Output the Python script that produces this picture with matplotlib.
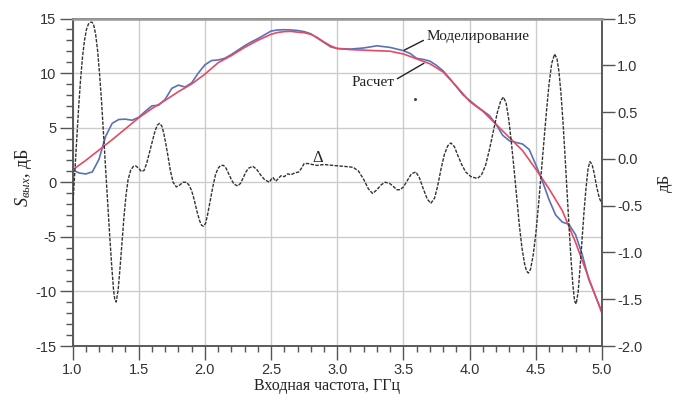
import matplotlib
matplotlib.use('Agg')
import matplotlib.pyplot as plt
from matplotlib.ticker import MultipleLocator, FormatStrFormatter

plt.rcParams['axes.unicode_minus'] = False
plt.rcParams['font.family'] = ['Liberation Sans', 'DejaVu Sans']
plt.rcParams['mathtext.fontset'] = 'custom'
plt.rcParams['mathtext.rm'] = 'Liberation Serif'
plt.rcParams['mathtext.it'] = 'Liberation Serif:italic'

# ---- data ----
freq_model = [1.0, 1.05, 1.1, 1.15, 1.2, 1.226, 1.25, 1.3, 1.35, 1.4, 1.45, 1.5, 1.55, 1.6, 1.65,
              1.7, 1.75, 1.8, 1.85, 1.9, 1.95, 2.0, 2.05, 2.1, 2.15, 2.2, 2.25, 2.3, 2.35, 2.4,
              2.45, 2.5, 2.55, 2.6, 2.65, 2.7, 2.75, 2.8, 2.85, 2.9, 2.95, 3.0, 3.1, 3.2, 3.3,
              3.4, 3.5, 3.55, 3.6, 3.65, 3.7, 3.75, 3.8, 3.85, 3.9, 3.95, 4.0, 4.05, 4.1, 4.15,
              4.2, 4.25, 4.3, 4.35, 4.4, 4.45, 4.5, 4.55, 4.6, 4.65, 4.7, 4.75, 4.8, 4.85, 4.9,
              4.95, 5.0]
s_model = [1.13, 0.85, 0.76, 0.95, 2.1, 3.2, 4.2, 5.4, 5.75, 5.78, 5.68, 5.95, 6.5, 7.0, 7.05,
           7.6, 8.6, 8.9, 8.72, 9.1, 10.0, 10.75, 11.15, 11.2, 11.35, 11.7, 12.1, 12.5, 12.85, 13.15,
           13.5, 13.85, 13.95, 13.97, 13.95, 13.9, 13.8, 13.6, 13.2, 12.8, 12.4, 12.25, 12.2, 12.3, 12.5,
           12.35, 12.05, 11.8, 11.35, 11.25, 11.1, 10.7, 10.2, 9.5, 8.75, 8.0, 7.5, 7.0, 6.55, 6.1,
           5.3, 4.3, 3.8, 3.65, 3.5, 3.0, 1.6, 0.1, -1.6, -3.0, -3.65, -3.85, -4.8, -6.6, -8.9,
           -10.4, -11.9]

freq_calc = [1.0, 1.1, 1.2, 1.3, 1.4, 1.5, 1.6, 1.7, 1.8, 1.9, 2.0, 2.1, 2.2, 2.3, 2.4, 2.5,
             2.55, 2.6, 2.65, 2.7, 2.75, 2.8, 2.85, 2.9, 2.95, 3.0, 3.1, 3.2, 3.3, 3.4, 3.5,
             3.6, 3.7, 3.8, 3.9, 4.0, 4.1, 4.2, 4.3, 4.4, 4.5, 4.6, 4.7, 4.8, 4.9, 5.0]
s_calc = [1.13, 2.0, 2.95, 3.9, 4.9, 5.9, 6.75, 7.5, 8.3, 9.0, 9.9, 10.95, 11.6, 12.35, 13.0, 13.55,
          13.72, 13.8, 13.82, 13.75, 13.7, 13.55, 13.25, 12.85, 12.5, 12.25, 12.15, 12.1, 12.05, 12.0, 11.75,
          11.3, 10.85, 10.1, 8.8, 7.4, 6.5, 5.3, 4.1, 2.9, 1.2, -0.6, -2.6, -5.5, -8.8, -12.0]

freq_delta = [1.0, 1.015, 1.03, 1.045, 1.06, 1.075, 1.09, 1.105, 1.12, 1.135, 1.148, 1.16, 1.175,
              1.19, 1.205, 1.22, 1.235, 1.25, 1.265, 1.28, 1.295, 1.31, 1.319, 1.33, 1.345, 1.36,
              1.375, 1.39, 1.405, 1.42, 1.44, 1.46, 1.477, 1.5, 1.52, 1.54, 1.56, 1.58, 1.6, 1.62,
              1.64, 1.658, 1.675, 1.69, 1.705, 1.72, 1.74, 1.76, 1.784, 1.81, 1.835, 1.86, 1.88, 1.9,
              1.92, 1.94, 1.96, 1.975, 1.99, 2.005, 2.02, 2.04, 2.06, 2.08, 2.1, 2.12, 2.141, 2.16,
              2.18, 2.2, 2.22, 2.249, 2.27, 2.29, 2.31, 2.33, 2.362, 2.39, 2.42, 2.45, 2.487, 2.5,
              2.515, 2.535, 2.555, 2.575, 2.6, 2.625, 2.65, 2.68, 2.71, 2.73, 2.75, 2.78, 2.81, 2.85,
              2.9, 2.965, 3.05, 3.12, 3.16, 3.2, 3.235, 3.267, 3.3, 3.33, 3.36, 3.393, 3.42, 3.45,
              3.474, 3.5, 3.53, 3.56, 3.594, 3.62, 3.65, 3.68, 3.707, 3.735, 3.76, 3.785, 3.81, 3.835,
              3.858, 3.885, 3.91, 3.94, 3.97, 4.01, 4.059, 4.09, 4.12, 4.15, 4.18, 4.21, 4.235, 4.255,
              4.275, 4.295, 4.315, 4.335, 4.355, 4.375, 4.395, 4.415, 4.43, 4.444, 4.46, 4.48, 4.5,
              4.52, 4.54, 4.56, 4.58, 4.6, 4.62, 4.642, 4.66, 4.675, 4.69, 4.705, 4.72, 4.735, 4.75,
              4.765, 4.78, 4.793, 4.805, 4.82, 4.835, 4.85, 4.865, 4.88, 4.895, 4.909, 4.925, 4.94,
              4.96, 4.98, 5.0]
delta = [-0.55, -0.2, 0.17, 0.52, 0.83, 1.08, 1.26, 1.38, 1.44, 1.46, 1.46, 1.43, 1.33,
         1.15, 0.9, 0.6, 0.25, -0.1, -0.45, -0.8, -1.12, -1.4, -1.5, -1.53, -1.4, -1.15,
         -0.88, -0.6, -0.38, -0.22, -0.12, -0.08, -0.075, -0.1, -0.135, -0.125, -0.05, 0.06, 0.17, 0.28,
         0.36, 0.38, 0.35, 0.27, 0.16, 0.04, -0.13, -0.25, -0.3, -0.28, -0.25, -0.25, -0.28, -0.34,
         -0.44, -0.56, -0.66, -0.71, -0.72, -0.69, -0.6, -0.45, -0.3, -0.17, -0.1, -0.07, -0.07, -0.1,
         -0.16, -0.22, -0.27, -0.29, -0.26, -0.2, -0.14, -0.1, -0.08, -0.11, -0.17, -0.22, -0.25, -0.22,
         -0.2, -0.24, -0.21, -0.18, -0.19, -0.16, -0.17, -0.15, -0.14, -0.1, -0.05, -0.05, -0.06, -0.07,
         -0.06, -0.07, -0.08, -0.09, -0.13, -0.22, -0.32, -0.37, -0.33, -0.28, -0.25, -0.26, -0.29, -0.33,
         -0.33, -0.3, -0.23, -0.16, -0.14, -0.2, -0.32, -0.43, -0.475, -0.42, -0.28, -0.1, 0.05, 0.14,
         0.17, 0.13, 0.04, -0.06, -0.14, -0.19, -0.21, -0.17, -0.07, 0.1, 0.3, 0.5, 0.62, 0.66,
         0.6, 0.43, 0.18, -0.1, -0.4, -0.7, -0.95, -1.12, -1.2, -1.22, -1.18, -1.03, -0.8,
         -0.5, -0.17, 0.17, 0.5, 0.8, 1.02, 1.12, 1.07, 0.93, 0.7, 0.4, 0.05, -0.33, -0.7,
         -1.05, -1.35, -1.52, -1.55, -1.42, -1.15, -0.85, -0.55, -0.3, -0.1, -0.03, -0.06, -0.15,
         -0.3, -0.42, -0.48]

x_ticks = [1.0, 1.5, 2.0, 2.5, 3.0, 3.5, 4.0, 4.5, 5.0]
y_left_ticks = [-15, -10, -5, 0, 5, 10, 15]
y_right_ticks = [-2.0, -1.5, -1.0, -0.5, 0.0, 0.5, 1.0, 1.5]

label_model = 'Моделирование'
label_calc = 'Расчет'
label_delta = 'Δ'
x_label = 'Входная частота, ГГц'
y_label = '$S_{вых}$, дБ'
y2_label = 'дБ'

# ---- figure ----
W, H = 680, 400
fig = plt.figure(figsize=(W / 100, H / 100), dpi=100)
L, R, T, B = 72.5, 602, 18.5, 346
ax = fig.add_axes([L / W, 1 - B / H, (R - L) / W, (B - T) / H])
ax2 = ax.twinx()

spine_c = '#555555'
tick_c = '#333333'
serif = ['Liberation Serif', 'DejaVu Serif']

ax.plot(freq_model, s_model, color='#5b70b8', lw=1.2, zorder=3)
ax.plot(freq_calc, s_calc, color='#e64a62', lw=1.2, zorder=4)
ax2.plot(freq_delta, delta, color='#333333', lw=1.0, ls=(0, (2.5, 1.0)), zorder=3)

ax.set_xlim(1.0, 5.0)
ax.set_ylim(-15, 15)
ax2.set_ylim(-2.0, 1.5)
ax.set_xticks(x_ticks)
ax.set_yticks(y_left_ticks)
ax2.set_yticks(y_right_ticks)
ax.xaxis.set_minor_locator(MultipleLocator(0.1))
ax.yaxis.set_minor_locator(MultipleLocator(1))
ax.xaxis.set_major_formatter(FormatStrFormatter('%.1f'))
ax2.yaxis.set_major_formatter(FormatStrFormatter('%.1f'))

ax.grid(True, which='major', color='#cccccc', lw=1.0)
ax.set_axisbelow(True)

for a in (ax, ax2):
    for s in a.spines.values():
        s.set_color(spine_c)
        s.set_linewidth(1.1)
ax2.spines['top'].set_color('#999999')
ax2.spines['top'].set_linewidth(1.8)

ax.tick_params(axis='y', which='major', direction='out', length=9.5, width=1.0,
               color=spine_c, labelsize=10.5, labelcolor=tick_c, pad=2)
ax.tick_params(axis='y', which='minor', direction='out', length=5, width=1.0, color=spine_c)
ax.tick_params(axis='x', which='major', direction='out', length=10, width=1.0,
               color=spine_c, labelsize=10.5, labelcolor=tick_c, pad=2.5)
ax.tick_params(axis='x', which='minor', direction='out', length=4.5, width=1.0, color=spine_c)
ax2.tick_params(axis='y', which='major', direction='out', length=9, width=1.0,
                color=spine_c, labelsize=10.5, labelcolor=tick_c, pad=2)

# annotations
ax.annotate(label_model, xy=(3.506, 12.1), xytext=(3.672, 13.36), fontsize=11,
            family=serif, color='#222222', va='center', ha='left',
            arrowprops=dict(arrowstyle='-', color='#222222', lw=1.0, shrinkA=0, shrinkB=0,
                            relpos=(0, 0.3)))
ax.annotate(label_calc, xy=(3.655, 10.9), xytext=(3.433, 9.1), fontsize=11,
            family=serif, color='#222222', va='center', ha='right',
            arrowprops=dict(arrowstyle='-', color='#222222', lw=1.0, shrinkA=0, shrinkB=0,
                            relpos=(1, 0.7)))
ax.text(2.85, 2.2, label_delta, fontsize=12, family=serif, color='#222222',
        ha='center', va='center')
ax.plot([3.589], [7.63], 'o', ms=1.2, color='#444444')

fig.text(327 / W, 1 - 386 / H, x_label, fontsize=11.5, family=serif, color='#222222',
         ha='center', va='center')
fig.text(23 / W, 1 - 178 / H, y_label, fontsize=13, family=serif, color='#222222',
         ha='center', va='center', rotation=90)
fig.text(665 / W, 1 - 183 / H, y2_label, fontsize=12, family=serif, color='#222222',
         ha='center', va='center', rotation=90)

fig.savefig('out.png', dpi=100)
